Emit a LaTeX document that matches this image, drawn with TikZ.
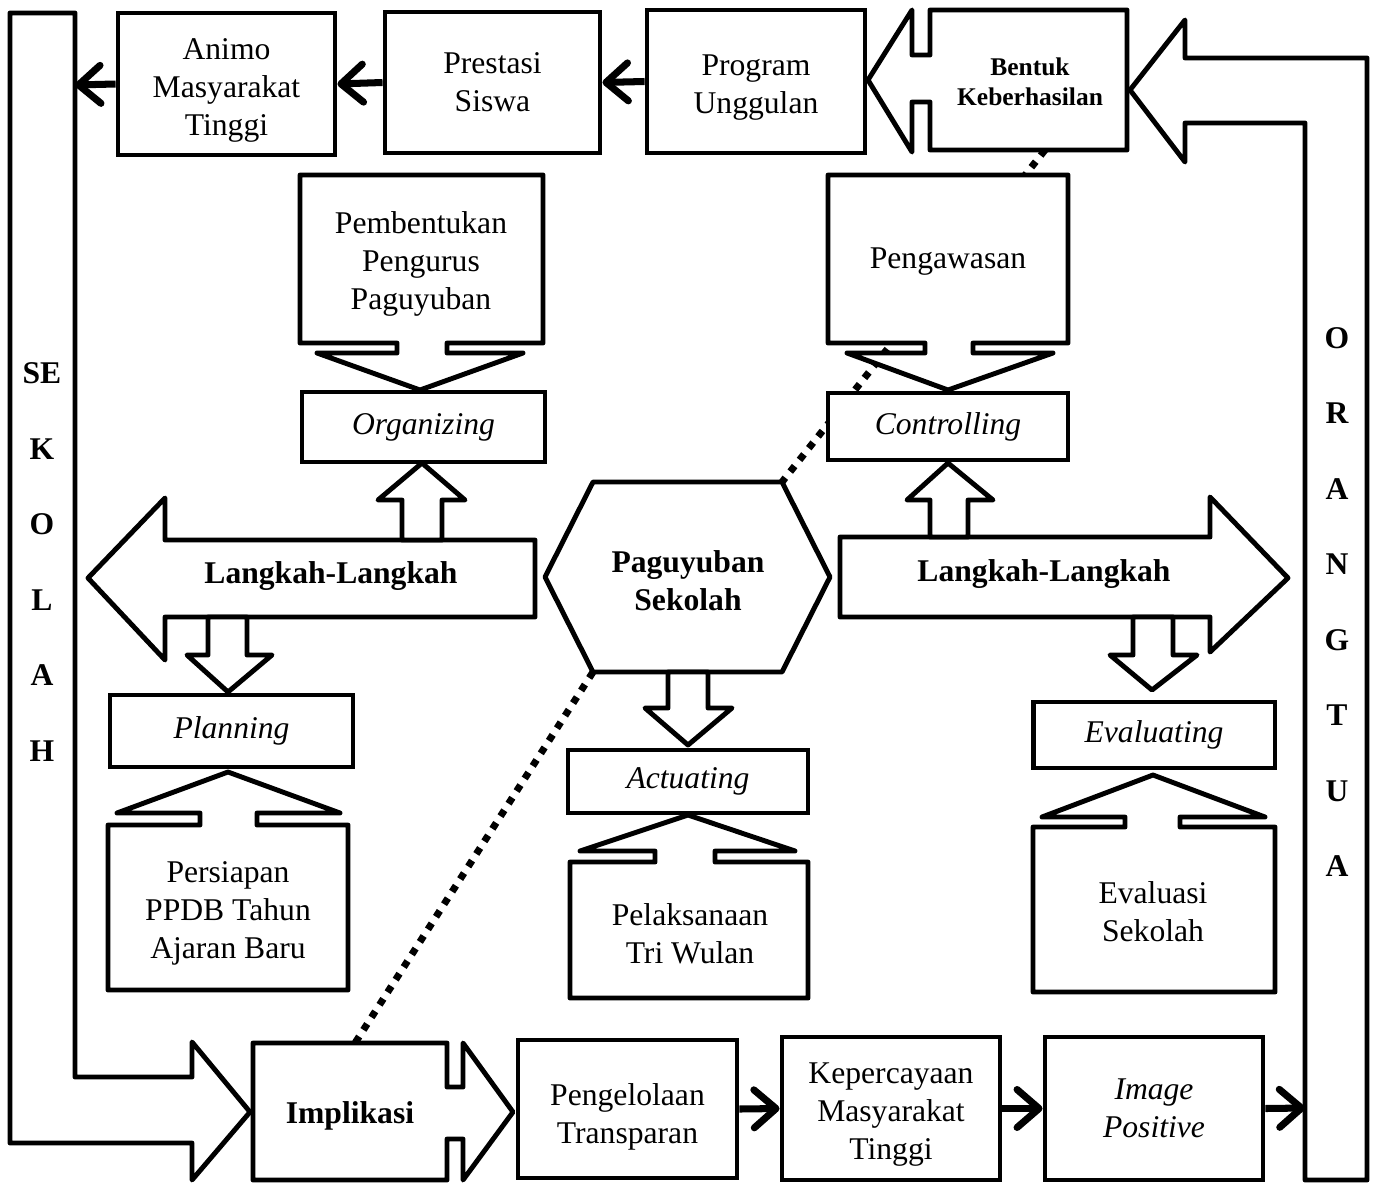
\documentclass[tikz,border=0pt]{standalone}
\usepackage{fontspec}
\setmainfont{Liberation Serif}
\usetikzlibrary{arrows.meta,positioning}

\tikzset{
  box/.style={draw, line width=2.8pt, fill=white, align=center, inner sep=0pt,
    font=\fontsize{18}{21.6}\selectfont},
  outline/.style={draw, line width=2.8pt, fill=white, line join=round},
  txt/.style={align=center, inner sep=0pt, font=\fontsize{18}{21.6}\selectfont},
  boldtxt/.style={txt, font=\fontsize{18}{21.6}\selectfont\bfseries},
  flow/.style={line width=4pt, -{Straight Barb[length=0.44cm,width=0.76cm,round]}},
  dots/.style={line width=4pt, dash pattern=on 4pt off 4.5pt}
}

\begin{document}
\begin{tikzpicture}[x=0.02cm, y=-0.02cm]
    \useasboundingbox (0,0) rectangle (1375,1183);

    % dotted links (behind everything)
    \coordinate (hexNE) at (782,482);
    \coordinate (hexSW) at (593,672);
    \coordinate (bentukfoot) at (1045,150);
    \coordinate (implikasitop) at (355,1043);
    \draw[dots] (bentukfoot) -- (hexNE);
    \draw[dots] (hexSW) -- (implikasitop);

    % side arrows
    \draw[outline] (10,13) -- (75,13) -- (75,1077) -- (192,1077) -- (192,1042) -- (250,1112)
        -- (192,1180) -- (192,1143) -- (10,1143) -- cycle;
    \node[boldtxt, font=\fontsize{18}{43}\selectfont\bfseries] (sekolah) at (42,562) {SE\\K\\O\\L\\A\\H};
    \draw[outline] (1367,1180) -- (1367,58) -- (1185,58) -- (1185,20) -- (1130,90) -- (1185,162)
        -- (1185,123) -- (1305,123) -- (1305,1180) -- cycle;
    \node[boldtxt, font=\fontsize{18}{43}\selectfont\bfseries] (orangtua) at (1337,602) {O\\R\\A\\N\\G\\T\\U\\A};
    \coordinate (sekolahedge) at (75,85);
    \coordinate (orangtuaedge) at (1305,1108);

    % top row
    \node[box, minimum width=4.34cm, minimum height=2.84cm] (animo) at (226.5,84) {\rule{0pt}{19pt}Animo\\Masyarakat\\Tinggi};
    \node[box, minimum width=4.3cm, minimum height=2.82cm] (prestasi) at (492.5,82.5) {Prestasi\\Siswa};
    \node[box, minimum width=4.36cm, minimum height=2.86cm] (program) at (756,81.5) {\rule{0pt}{19pt}Program\\Unggulan};
    \draw[outline] (930,10) -- (1127,10) -- (1127,150) -- (930,150) -- (930,102) -- (912,102)
        -- (912,152) -- (868,80) -- (912,10) -- (912,55) -- (930,55) -- cycle;
    \node[boldtxt, font=\fontsize{14.5}{17}\selectfont\bfseries] (bentuk) at (1030,82) {Bentuk\\Keberhasilan};

    \draw[flow] (program.west) -- (prestasi.east);
    \draw[flow] (prestasi.west) -- (animo.east);
    \draw[flow] (animo.west) -- (sekolahedge);

    % organizing / controlling
    \draw[outline] (300,175) -- (543,175) -- (543,343) -- (447,343) -- (447,353) -- (523,353)
        -- (420,390) -- (317,353) -- (397,353) -- (397,343) -- (300,343) -- cycle;
    \node[txt] (pembentukan) at (421,264) {Pembentukan\\Pengurus\\Paguyuban};
    \node[box, minimum width=4.86cm, minimum height=1.4cm] (organizing) at (423.5,427) {\itshape Organizing};

    \draw[outline] (828,175) -- (1068,175) -- (1068,343) -- (973,343) -- (973,353) -- (1053,353)
        -- (948,390) -- (847,353) -- (925,353) -- (925,343) -- (828,343) -- cycle;
    \node[txt] (pengawasan) at (948,262) {Pengawasan};
    \node[box, minimum width=4.8cm, minimum height=1.34cm] (controlling) at (948,426.5) {\itshape Controlling};

    % langkah-langkah and paguyuban
    \draw[outline] (535,540) -- (535,617) -- (165,617) -- (165,660) -- (88,578) -- (165,498)
        -- (165,540) -- cycle;
    \node[boldtxt] (langkahkiri) at (331,576) {Langkah-Langkah};
    \draw[outline] (840,537) -- (1210,537) -- (1210,497) -- (1288,578) -- (1210,652) -- (1210,617)
        -- (840,617) -- cycle;
    \node[boldtxt] (langkahkanan) at (1044,574) {Langkah-Langkah};
    \draw[outline] (hexNE) -- (830,577) -- (782,672) -- (hexSW) -- (545,577) -- (593,482) -- cycle;
    \node[boldtxt] (paguyuban) at (688,581) {Paguyuban\\Sekolah};

    \draw[outline] (402,540) -- (402,500) -- (378,500) -- (422,463) -- (465,500) -- (442,500) -- (442,540) -- cycle;
    \draw[outline] (930,537) -- (930,500) -- (907,500) -- (948,463) -- (993,500) -- (968,500) -- (968,537) -- cycle;
    \draw[outline] (208,617) -- (208,655) -- (187,655) -- (228,692) -- (272,655) -- (247,655) -- (247,617) -- cycle;
    \draw[outline] (668,672) -- (668,708) -- (645,708) -- (688,745) -- (732,708) -- (708,708) -- (708,672) -- cycle;
    \draw[outline] (1133,617) -- (1133,655) -- (1110,655) -- (1152,690) -- (1197,655) -- (1173,655) -- (1173,617) -- cycle;

    % planning / actuating / evaluating
    \node[box, minimum width=4.86cm, minimum height=1.44cm] (planning) at (231.5,731) {\itshape Planning};
    \node[box, minimum width=4.8cm, minimum height=1.26cm] (actuating) at (688,781.5) {\itshape Actuating};
    \node[box, minimum width=4.84cm, minimum height=1.32cm] (evaluating) at (1154,735) {\itshape Evaluating};

    \draw[outline] (108,990) -- (108,825) -- (200,825) -- (200,813) -- (117,813) -- (228,772)
        -- (340,813) -- (257,813) -- (257,825) -- (348,825) -- (348,990) -- cycle;
    \node[txt] (persiapan) at (228,913) {Persiapan\\PPDB Tahun\\Ajaran Baru};
    \draw[outline] (570,998) -- (570,862) -- (655,862) -- (655,851) -- (580,851) -- (688,815)
        -- (795,851) -- (715,851) -- (715,862) -- (808,862) -- (808,998) -- cycle;
    \node[txt] (pelaksanaan) at (690,934) {Pelaksanaan\\Tri Wulan};
    \draw[outline] (1033,992) -- (1033,827) -- (1125,827) -- (1125,817) -- (1042,817) -- (1153,775)
        -- (1265,817) -- (1180,817) -- (1180,827) -- (1275,827) -- (1275,992) -- cycle;
    \node[txt] (evaluasi) at (1153,912) {Evaluasi\\Sekolah};

    % bottom row
    \draw[outline] (253,1043) -- (447,1043) -- (447,1087) -- (463,1087) -- (463,1043) -- (513,1112)
        -- (463,1180) -- (463,1139) -- (447,1139) -- (447,1180) -- (253,1180) -- cycle;
    \node[boldtxt] (implikasi) at (350,1116) {Implikasi};
    \node[box, minimum width=4.38cm, minimum height=2.76cm] (pengelolaan) at (627.5,1109) {\rule{0pt}{21pt}Pengelolaan\\Transparan};
    \node[box, minimum width=4.36cm, minimum height=2.86cm] (kepercayaan) at (891,1108.5) {\rule{0pt}{19pt}Kepercayaan\\Masyarakat\\Tinggi};
    \node[box, minimum width=4.36cm, minimum height=2.86cm] (image) at (1154,1108.5) {\itshape Image\\\itshape Positive};

    \draw[flow] (pengelolaan.east) -- (kepercayaan.west);
    \draw[flow] (kepercayaan.east) -- (image.west);
    \draw[flow] (image.east) -- (orangtuaedge);
\end{tikzpicture}
\end{document}
